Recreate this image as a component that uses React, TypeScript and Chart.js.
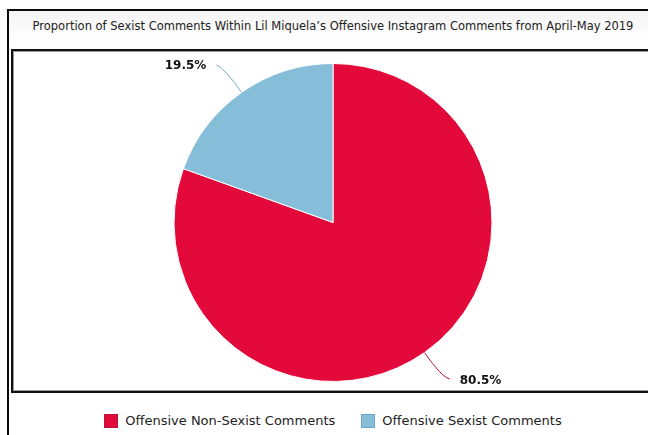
import React, { useEffect, useRef } from "react";
import { Chart, registerables } from "chart.js";

Chart.register(...registerables);

const TITLE = "Proportion of Sexist Comments Within Lil Miquela\u2019s Offensive Instagram Comments from April-May 2019";
const CATEGORIES = ["Offensive Non-Sexist Comments", "Offensive Sexist Comments"];
const VALUES = [80.5, 19.5];
const COLORS = ["#E3093A", "#86BDD8"];
const LINE_COLORS = ["#B5143C", "#6FA9C6"];

const labelPlugin = {
  id: "pctLabels",
  afterDatasetsDraw(chart: any) {
    const ctx = chart.ctx;
    const meta = chart.getDatasetMeta(0);
    const data = chart.data.datasets[0].data as number[];
    meta.data.forEach((arc: any, i: number) => {
      const { x, y, startAngle, endAngle, outerRadius } = arc.getProps(
        ["x", "y", "startAngle", "endAngle", "outerRadius"],
        true
      );
      const mid = (startAngle + endAngle) / 2;
      const cos = Math.cos(mid);
      const sin = Math.sin(mid);
      const sx = x + outerRadius * cos;
      const sy = y + outerRadius * sin;
      const cx = x + (outerRadius + 30) * cos;
      const cy = y + (outerRadius + 30) * sin;
      const dir = cos >= 0 ? 1 : -1;
      const ex = cx + dir * 8;
      const ey = cy + (sin > 0 ? 2 : -3);
      ctx.save();
      ctx.strokeStyle = LINE_COLORS[i];
      ctx.lineWidth = 1;
      ctx.beginPath();
      ctx.moveTo(sx, sy);
      ctx.quadraticCurveTo(cx, cy, ex, ey);
      ctx.stroke();
      ctx.fillStyle = "#111";
      ctx.font = "bold 12px 'DejaVu Sans', sans-serif";
      ctx.textBaseline = "middle";
      ctx.textAlign = dir > 0 ? "left" : "right";
      ctx.fillText(data[i].toFixed(1) + "%", ex + dir * 10, ey + (sin > 0 ? 2 : 1));
      ctx.restore();
    });
  },
};

export default function App() {
  const ref = useRef<HTMLCanvasElement | null>(null);
  useEffect(() => {
    if (!ref.current) return;
    const chart = new Chart(ref.current, {
      type: "pie",
      data: {
        labels: CATEGORIES,
        datasets: [
          {
            data: VALUES,
            backgroundColor: COLORS,
            borderColor: "#ffffff",
            borderWidth: 1,
          },
        ],
      },
      options: {
        responsive: false,
        animation: false,
        layout: { padding: { top: 12, bottom: 9, left: 0, right: 0 } },
        plugins: {
          legend: { display: false },
          title: { display: false },
          tooltip: { enabled: false },
        },
      },
      plugins: [labelPlugin],
    });
    return () => chart.destroy();
  }, []);

  const legendItem = (i: number) => (
    <div style={{ display: "flex", alignItems: "center" }}>
      <span
        style={{
          display: "inline-block",
          width: 14,
          height: 14,
          background: COLORS[i],
          border: "1px solid " + LINE_COLORS[i],
          boxSizing: "border-box",
          marginRight: 7,
        }}
      />
      <span>{CATEGORIES[i]}</span>
    </div>
  );

  return (
    <div
      style={{
        position: "fixed",
        left: 0,
        top: 0,
        width: 648,
        height: 435,
        overflow: "hidden",
        background: "#fff",
        fontFamily: "'DejaVu Sans', sans-serif",
      }}
    >
      <div
        style={{
          position: "absolute",
          left: 7,
          top: 9,
          width: 800,
          height: 600,
          borderLeft: "2px solid #0a0a0a",
          borderTop: "2px solid #0a0a0a",
          background: "linear-gradient(#f4f4f4, #ffffff 30px)",
        }}
      />
      <div
        style={{
          position: "absolute",
          left: 0,
          width: 666,
          top: 19,
          textAlign: "center",
          fontSize: 11.5,
          color: "#222",
          lineHeight: "14px",
          whiteSpace: "nowrap",
        }}
      >
        {TITLE}
      </div>
      <div
        style={{
          position: "absolute",
          left: 11,
          top: 49,
          width: 800,
          height: 344,
          boxSizing: "border-box",
          border: "2px solid #111",
          boxShadow: "inset 1px 1px 0 #999, inset -1px -1px 0 #999",
          background: "#fff",
        }}
      />
      <canvas
        ref={ref}
        width={640}
        height={340}
        style={{ position: "absolute", left: 13, top: 51, width: 640, height: 340 }}
      />
      <div
        style={{
          position: "absolute",
          left: 0,
          width: 666,
          top: 413,
          display: "flex",
          justifyContent: "center",
          gap: 26,
          fontSize: 13,
          color: "#222",
          lineHeight: "16px",
          whiteSpace: "nowrap",
        }}
      >
        {legendItem(0)}
        {legendItem(1)}
      </div>
    </div>
  );
}
